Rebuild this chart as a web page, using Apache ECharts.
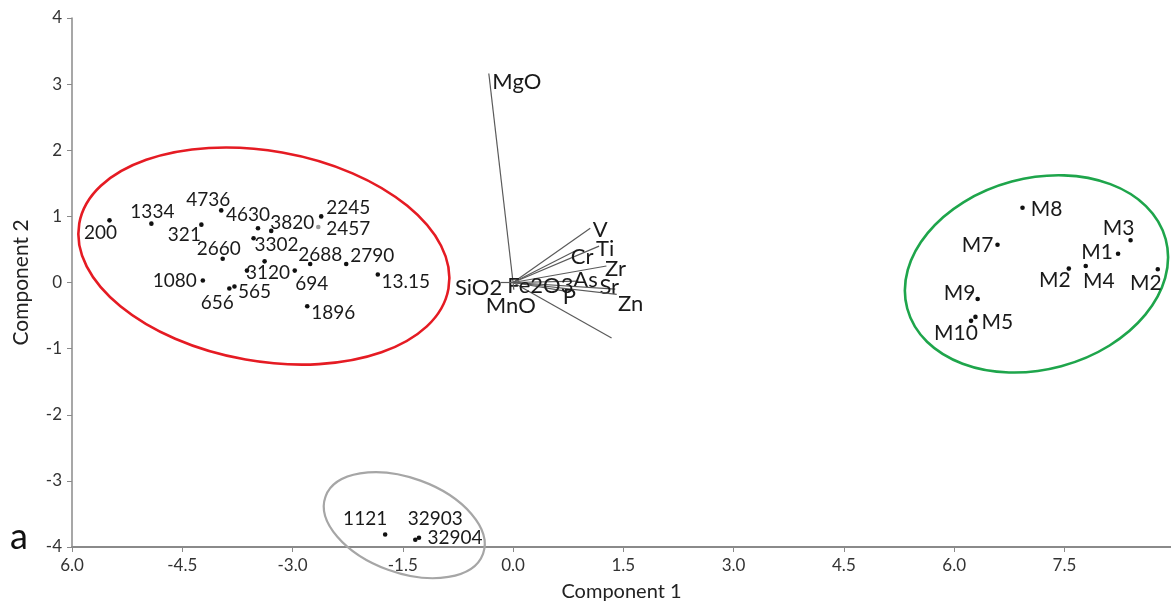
<!DOCTYPE html>
<html>
<head>
<meta charset="utf-8">
<script src="https://cdn.jsdelivr.net/npm/echarts@6/dist/echarts.min.js"></script>
<style>
  html, body { margin: 0; padding: 0; background: #fff; }
  #biplot { width: 1171px; height: 609px; }
</style>
</head>
<body>
<div id="biplot"></div>
<script>
// tick labels as printed (the first x label is printed without its minus sign)
var xTickLabels = ['6.0', '-4.5', '-3.0', '-1.5', '0.0', '1.5', '3.0', '4.5', '6.0', '7.5'];
var yTickLabels = ['-4', '-3', '-2', '-1', '0', '1', '2', '3', '4'];

// sample scores
var sampleNames = ['200', '1334', '321', '4736', '4630', '3820', '3302', '2457', '2245', '2660',
  '', '3120', '694', '2688', '2790', '13.15', '1080', '656', '565', '1896',
  'M8', 'M7', 'M3', 'M1', 'M2', 'M4', 'M2', 'M9', 'M5', 'M10',
  '1121', '32903', '32904'];
var sampleX = [-5.49, -4.92, -4.24, -3.97, -3.47, -3.29, -3.53, -2.65, -2.61, -3.95,
  -3.38, -3.62, -2.97, -2.76, -2.27, -1.84, -4.22, -3.86, -3.79, -2.80,
  6.93, 6.59, 8.40, 8.23, 7.56, 7.79, 8.77, 6.32, 6.29, 6.23,
  -1.74, -1.33, -1.28];
var sampleY = [0.94, 0.89, 0.875, 1.09, 0.82, 0.78, 0.67, 0.84, 1.00, 0.36,
  0.32, 0.18, 0.18, 0.28, 0.28, 0.12, 0.03, -0.09, -0.06, -0.36,
  1.13, 0.57, 0.64, 0.435, 0.21, 0.25, 0.20, -0.25, -0.52, -0.58,
  -3.81, -3.89, -3.86];

// variable loadings (biplot arrows from the origin)
var vectorNames = ['MgO', 'V', 'Ti', 'Cr', 'Zr', 'As', 'Sr', 'Zn', 'P', '', 'Fe2O3', 'SiO2', 'MnO'];
var vectorX = [-0.33, 1.05, 1.17, 0.83, 1.27, 0.89, 1.39, 1.41, 0.71, 1.34, 0.03, -0.17, 0.01];
var vectorY = [3.16, 0.82, 0.55, 0.47, 0.25, 0.02, -0.10, -0.18, -0.13, -0.84, 0.0, 0.0, -0.11];

// group ellipses: centre, semi-axes (x units), tilt in degrees
var ringX = [-3.39, 7.12, -1.48];
var ringY = [0.40, 0.13, -3.67];
var ringMajor = [2.55, 1.82, 1.14];
var ringMinor = [1.43, 1.30, 0.645];
var ringTilt = [-10, 15, -20];

// layout only: label shifts in pixels
var sampleLabelShift = [[-9, 13], [1, -12], [-17, 10], [-13, -11], [-10, -13], [21, -8], [23, 7], [30, 2], [27, -9], [-4, -10],
  [0, 0], [21, 2], [17, 13], [10, -9], [26, -8], [28, 7], [-28, 0], [-12, 14], [20, 5], [26, 7],
  [24, 1], [-20, 0], [-12, -12], [-21, -2], [-14, 12], [13, 15], [-12, 14], [-18, -6], [22, 5], [-15, 12],
  [-20, -16], [20, -21], [36, 0]];
var vectorLabelShift = [[28, 8], [10, 2], [6, 3], [8, 5], [9, 3], [7, -1], [-6, -2], [14, 10], [4, 6], [0, 0], [25, 3], [-22, 5], [-3, 16]];
var ringColours = ['#e51b23', '#1ea54b', '#a6a6a6'];

var chart = echarts.init(document.getElementById('biplot'));

var points = sampleX.map(function (x, i) { return [x, sampleY[i]]; });
var rings = ringX.map(function (x, i) {
  return [x, ringY[i], ringMajor[i], ringMinor[i], ringTilt[i]];
});
var arrows = vectorX.map(function (x, i) { return [x, vectorY[i]]; });

var axisGrey = '#8a8a8a';

chart.setOption({
  animation: false,
  textStyle: { fontFamily: 'Lato' },
  grid: { left: 72, right: 0, top: 18, bottom: 62 },
  graphic: [{
    type: 'text', left: 10, top: 519,
    style: { text: 'a', fontSize: 36, fontFamily: 'Lato', fill: '#111' }
  }],
  xAxis: {
    type: 'value', min: -6, max: 8.95, interval: 1.5,
    name: 'Component 1', nameLocation: 'middle', nameGap: 35,
    nameTextStyle: { fontSize: 20, color: '#222' },
    splitLine: { show: false },
    axisLine: { onZero: false, lineStyle: { color: axisGrey, width: 2 } },
    axisTick: { length: 5, lineStyle: { color: axisGrey } },
    axisLabel: {
      fontSize: 17, color: '#333', margin: 10, showMaxLabel: false,
      formatter: function (v) {
        var k = Math.round((v + 6) / 1.5);
        return Math.abs(v + 6 - k * 1.5) < 1e-6 && xTickLabels[k] ? xTickLabels[k] : '';
      }
    }
  },
  yAxis: {
    type: 'value', min: -4, max: 4, interval: 1,
    name: 'Component 2', nameLocation: 'middle', nameGap: 40,
    nameTextStyle: { fontSize: 21, color: '#222' },
    splitLine: { show: false },
    axisLine: { onZero: false, lineStyle: { color: axisGrey, width: 1.5 } },
    axisTick: { length: 5, lineStyle: { color: axisGrey } },
    axisLabel: {
      fontSize: 17, color: '#333', margin: 10,
      formatter: function (v) { return yTickLabels[Math.round(v + 4)]; }
    }
  },
  series: [{
    type: 'custom',
    coordinateSystem: 'cartesian2d',
    clip: false,
    silent: true,
    data: rings,
    renderItem: function (params, api) {
      var c = api.coord([api.value(0), api.value(1)]);
      var unit = api.size([1, 0])[0];
      return {
        type: 'ellipse',
        x: c[0], y: c[1],
        rotation: api.value(4) * Math.PI / 180,
        shape: { cx: 0, cy: 0, rx: api.value(2) * unit, ry: api.value(3) * unit },
        style: { fill: 'none', stroke: ringColours[params.dataIndex], lineWidth: params.dataIndex === 2 ? 2.2 : 2.6 }
      };
    }
  }, {
    type: 'custom',
    coordinateSystem: 'cartesian2d',
    clip: false,
    silent: true,
    data: arrows,
    renderItem: function (params, api) {
      var o = api.coord([0, 0]);
      var e = api.coord([api.value(0), api.value(1)]);
      var s = vectorLabelShift[params.dataIndex];
      return {
        type: 'group',
        children: [{
          type: 'line',
          shape: { x1: o[0], y1: o[1], x2: e[0], y2: e[1] },
          style: { stroke: '#5a5a5a', lineWidth: 1.2 }
        }, {
          type: 'text',
          x: e[0] + s[0], y: e[1] + s[1],
          style: {
            text: vectorNames[params.dataIndex], fill: '#1a1a1a',
            fontSize: 22, fontFamily: 'Lato', align: 'center', verticalAlign: 'middle'
          }
        }]
      };
    }
  }, {
    type: 'custom',
    coordinateSystem: 'cartesian2d',
    clip: false,
    silent: true,
    data: points,
    z: 5,
    renderItem: function (params, api) {
      var i = params.dataIndex;
      var p = api.coord([api.value(0), api.value(1)]);
      var s = sampleLabelShift[i];
      var n = sampleNames[i];
      return {
        type: 'group',
        children: [{
          type: 'circle',
          shape: { cx: p[0], cy: p[1], r: 2.3 },
          style: { fill: n === '2457' ? '#9a9a9a' : '#111' }
        }, {
          type: 'text',
          x: p[0] + s[0], y: p[1] + s[1],
          style: {
            text: n, fill: '#1a1a1a',
            fontSize: n.charAt(0) === 'M' ? 21 : 19, fontFamily: 'Lato',
            align: 'center', verticalAlign: 'middle'
          }
        }]
      };
    }
  }]
});
</script>
</body>
</html>
